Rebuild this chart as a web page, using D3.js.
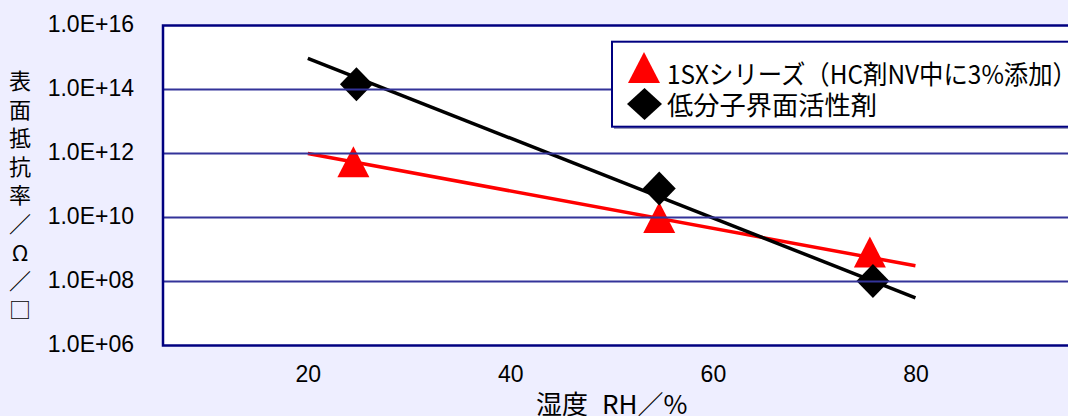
<!DOCTYPE html>
<html><head><meta charset="utf-8">
<script src="https://cdn.jsdelivr.net/npm/d3@7"></script>
<style>
html,body{margin:0;padding:0;background:#EEEEFF;overflow:hidden;}
svg{display:block;}
</style></head>
<body>
<svg id="chart" width="1068" height="416"></svg>
<script>
// ---- data ----
const seriesNames = ["1SXシリーズ（HC剤NV中に3%添加）", "低分子界面活性剤"];
const rhSX = [24.5, 54.7, 75.5];
const resSX = [5.5e11, 1.0e10, 8.3e8];
const rhLow = [24.8, 54.7, 75.8];
const resLow = [1.45e14, 8.1e10, 1.04e8];
const trendSX_rh = [20, 80];
const trendSX_res = [1.0e12, 3.1e8];
const trendLow_rh = [20, 80];
const trendLow_res = [9.4e14, 3.1e7];
const xTicks = [20, 40, 60, 80];
const yTicks = [1e6, 1e8, 1e10, 1e12, 1e14, 1e16];
const yTickLabels = ["1.0E+06", "1.0E+08", "1.0E+10", "1.0E+12", "1.0E+14", "1.0E+16"];
const yTitle = "表面抵抗率／Ω／□";
const xTitleParts = ["湿度", "RH／%"];

// ---- layout ----
const plot = {left: 163, top: 25.5, bottom: 345.5, right: 1118};
const svg = d3.select("#chart");
const x = d3.scaleLinear().domain([5.7, 100]).range([plot.left, plot.right]);
const y = d3.scaleLog().domain([1e6, 1e16]).range([plot.bottom, plot.top]);

const tickFont = "'Liberation Sans', Arial, sans-serif";
const cjkFont = "'Noto Sans CJK JP', 'Noto Sans CJK SC', sans-serif";

// plot area
svg.append("rect").attr("x", plot.left).attr("y", plot.top)
  .attr("width", plot.right - plot.left).attr("height", plot.bottom - plot.top)
  .attr("fill", "#fff");

// trend lines
const line = d3.line().x(d => x(d[0])).y(d => y(d[1]));
svg.append("path").datum(trendSX_rh.map((r, i) => [r, trendSX_res[i]]))
  .attr("d", line).attr("stroke", "#ff0000").attr("stroke-width", 3.5).attr("fill", "none");
svg.append("path").datum(trendLow_rh.map((r, i) => [r, trendLow_res[i]]))
  .attr("d", line).attr("stroke", "#000").attr("stroke-width", 3.5).attr("fill", "none");

// markers
function triPath(w, h) { return `M0,${-h/2}L${w/2},${h/2}L${-w/2},${h/2}Z`; }
function diaPath(w, h) { return `M0,${-h/2}L${w/2},0L0,${h/2}L${-w/2},0Z`; }

svg.append("g").selectAll("path").data(rhSX.map((r, i) => [r, resSX[i]])).join("path")
  .attr("d", triPath(32, 31))
  .attr("transform", d => `translate(${x(d[0])},${y(d[1])})`)
  .attr("fill", "#ff0000");
svg.append("g").selectAll("path").data(rhLow.map((r, i) => [r, resLow[i]])).join("path")
  .attr("d", diaPath(33, 34))
  .attr("transform", d => `translate(${x(d[0])},${y(d[1])})`)
  .attr("fill", "#000");

// gridlines (drawn over the marks, as in reference)
svg.append("g").selectAll("line").data(yTicks.slice(1, -1)).join("line")
  .attr("x1", plot.left).attr("x2", plot.right)
  .attr("y1", d => y(d)).attr("y2", d => y(d))
  .attr("stroke", "#333399").attr("stroke-width", 2);

// plot border
svg.append("rect").attr("x", plot.left).attr("y", plot.top)
  .attr("width", plot.right - plot.left).attr("height", plot.bottom - plot.top)
  .attr("fill", "none").attr("stroke", "#000080").attr("stroke-width", 2.5);

// y axis labels
const yAxis = d3.axisLeft(y).tickValues(yTicks)
  .tickFormat((d, i) => yTickLabels[i]).tickSize(0).tickPadding(0);
const gy = svg.append("g").attr("transform", `translate(134,0)`).call(yAxis);
gy.select(".domain").remove();
gy.selectAll("text").attr("font-family", tickFont).attr("font-size", 23)
  .attr("fill", "#000").attr("dy", null).attr("y", 6).attr("x", 0);

// x axis labels
const xAxis = d3.axisBottom(x).tickValues(xTicks).tickSize(0).tickPadding(0);
const gx = svg.append("g").call(xAxis);
gx.select(".domain").remove();
gx.selectAll("text").attr("font-family", tickFont).attr("font-size", 23)
  .attr("fill", "#000").attr("dy", null).attr("y", 381.5);

// x title
const xt = svg.append("text").attr("x", 536).attr("y", 414)
  .attr("font-family", cjkFont).attr("font-size", 26).attr("fill", "#000");
xt.append("tspan").text(xTitleParts[0]);
xt.append("tspan").attr("dx", 14).text(xTitleParts[1]);

// y title (stacked vertical)
const yt = svg.append("text").attr("font-family", cjkFont).attr("font-size", 22)
  .attr("fill", "#000").attr("text-anchor", "middle");
Array.from(yTitle).forEach((ch, i) => {
  yt.append("tspan").attr("x", 20).attr("y", 79 + i * 28.6)
    .attr("dominant-baseline", "central").text(ch);
});

// legend
const lg = svg.append("g");
lg.append("rect").attr("x", 614).attr("y", 44).attr("width", 470).attr("height", 85)
  .attr("fill", "#9999bb");
lg.append("rect").attr("x", 612).attr("y", 41.7).attr("width", 470).attr("height", 85)
  .attr("fill", "#fff").attr("stroke", "#000080").attr("stroke-width", 2);
lg.append("path").attr("d", triPath(32, 31)).attr("transform", "translate(644,67.5)").attr("fill", "#ff0000");
lg.append("path").attr("d", diaPath(35, 32)).attr("transform", "translate(644.5,104)").attr("fill", "#000");
const legendLens = [410, 210];
[72, 103].forEach((yy, i) => {
  lg.append("text").attr("x", 667).attr("y", yy).attr("dominant-baseline", "central")
    .attr("font-family", cjkFont).attr("font-size", 26).attr("fill", "#000")
    .attr("textLength", legendLens[i]).attr("lengthAdjust", "spacingAndGlyphs")
    .text(seriesNames[i]);
});
</script>
</body></html>
